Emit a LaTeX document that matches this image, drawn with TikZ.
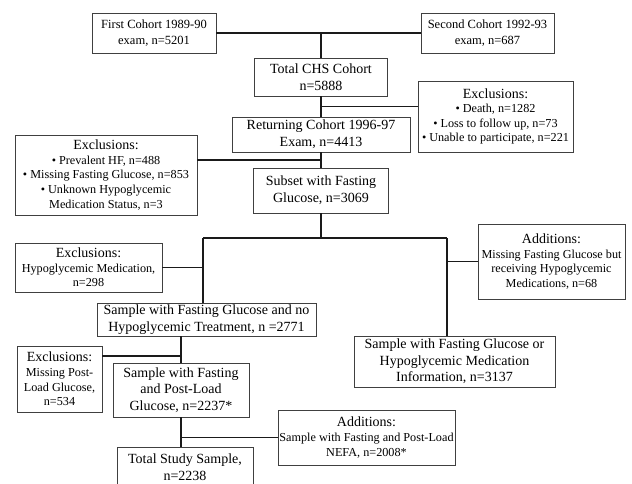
\documentclass[tikz,border=0pt]{standalone}
\usepackage{fontspec}
\setmainfont{Liberation Serif}
\usepackage{tikz}
\usetikzlibrary{calc}
\definecolor{chsline}{HTML}{1A1A1A}
\definecolor{chsbox}{HTML}{404040}
\newcommand\bigtxt{\fontsize{14}{16.7}\selectfont}
\newcommand\midtxt{\fontsize{12.5}{15.5}\selectfont}
\newcommand\smtxt{\fontsize{12.2}{14.6}\selectfont}

\begin{document}
\begin{tikzpicture}[x=1pt, y=-1pt,
    box/.style={draw=chsbox, line width=0.9pt, align=center, inner sep=0pt, outer sep=0pt},
    link/.style={draw=chsline, line width=1.8pt}]
  \useasboundingbox (0,0) rectangle (632,483);
  % cohorts at the top
  \node[box, font=\midtxt, minimum width=124, minimum height=40] (first) at (154,33) {First Cohort 1989-90\\exam, n=5201};
  \node[box, font=\midtxt, minimum width=133, minimum height=40] (second) at (487.5,33) {Second Cohort 1992-93\\exam, n=687};
  \node[box, font=\bigtxt, minimum width=133, minimum height=38] (total) at (321,77) {Total CHS Cohort\\n=5888};
  \node[box, font=\smtxt, minimum width=155, minimum height=71] (excl1) at (495.5,116.5)
    {{\bigtxt Exclusions:}\\• Death, n=1282\\• Loss to follow up, n=73\\• Unable to participate, n=221};
  \node[box, font=\bigtxt, minimum width=178, minimum height=35] (returning) at (321,134.5) {Returning Cohort 1996-97\\Exam, n=4413};
  \node[box, font=\smtxt, minimum width=182, minimum height=80] (excl2) at (106,175)
    {{\bigtxt Exclusions:}\\• Prevalent HF, n=488\\• Missing Fasting Glucose, n=853\\• Unknown Hypoglycemic\\Medication Status, n=3};
  \node[box, font=\bigtxt, minimum width=135, minimum height=45] (subset) at (321,190.5) {Subset with Fasting\\Glucose, n=3069};
  % the two branches
  \node[box, font=\smtxt, minimum width=147, minimum height=49] (excl3) at (88.5,267.5)
    {{\bigtxt Exclusions:}\\Hypoglycemic Medication,\\n=298};
  \node[box, font=\smtxt, minimum width=147, minimum height=75] (add1) at (551.5,261.5)
    {{\bigtxt Additions:}\\Missing Fasting Glucose but\\receiving Hypoglycemic\\Medications, n=68};
  \node[box, font=\bigtxt, minimum width=219, minimum height=33] (samp1) at (206.5,319.5)
    {Sample with Fasting Glucose and no\\Hypoglycemic Treatment, n =2771};
  \node[box, font=\bigtxt, minimum width=201, minimum height=51] (samp2) at (454.5,361.5)
    {Sample with Fasting Glucose or\\Hypoglycemic Medication\\Information, n=3137};
  \node[box, font=\smtxt, minimum width=85, minimum height=66] (excl4) at (59.5,379)
    {{\bigtxt Exclusions:}\\Missing Post-\\Load Glucose,\\n=534};
  \node[box, font=\bigtxt, minimum width=136, minimum height=54] (samp3) at (181,390)
    {Sample with Fasting\\and Post-Load\\Glucose, n=2237*};
  \node[box, font=\smtxt, minimum width=177, minimum height=55] (nefa) at (366.5,437.5)
    {{\bigtxt Additions:}\\Sample with Fasting and Post-Load\\NEFA, n=2008*};
  % bottom edge runs off the page, as in the source
  \node[box, font=\bigtxt, minimum width=136, minimum height=40] (study) at (185,467)
    {Total Study Sample,\\n=2238};

  % joints
  \coordinate (j1) at ($(total.south)!0.5!(returning.north)$);
  \coordinate (j2) at ($(returning.south)!0.5!(subset.north)$);
  \coordinate (lsplit) at (203,238);
  \coordinate (rsplit) at (447,238);
  \coordinate (j4) at (181,356);

  \draw[link] (first.east) -- (second.west);
  \draw[link] (first.east -| total.north) -- (total.north);
  \draw[link] (total.south) -- (returning.north);
  \draw[link] (excl1.west |- j1) -- (j1);
  \draw[link] (returning.south) -- (subset.north);
  \draw[link] (excl2.east |- j2) -- (j2);
  \draw[link] (subset.south) -- (subset.south |- lsplit);
  \draw[link] (lsplit) -- (rsplit);
  \draw[link] (lsplit) -- (lsplit |- samp1.north);
  \draw[link] (rsplit) -- (rsplit |- samp2.north);
  \draw[link] (excl3.east) -- (excl3.east -| lsplit);
  \draw[link] (add1.west) -- (add1.west -| rsplit);
  \draw[link] (samp3.north |- samp1.south) -- (samp3.north);
  \draw[link] (excl4.east |- j4) -- (j4);
  \draw[link] (samp3.south) -- (samp3.south |- study.north);
  \draw[link] (nefa.west) -- (nefa.west -| samp3.south);
\end{tikzpicture}
\end{document}
